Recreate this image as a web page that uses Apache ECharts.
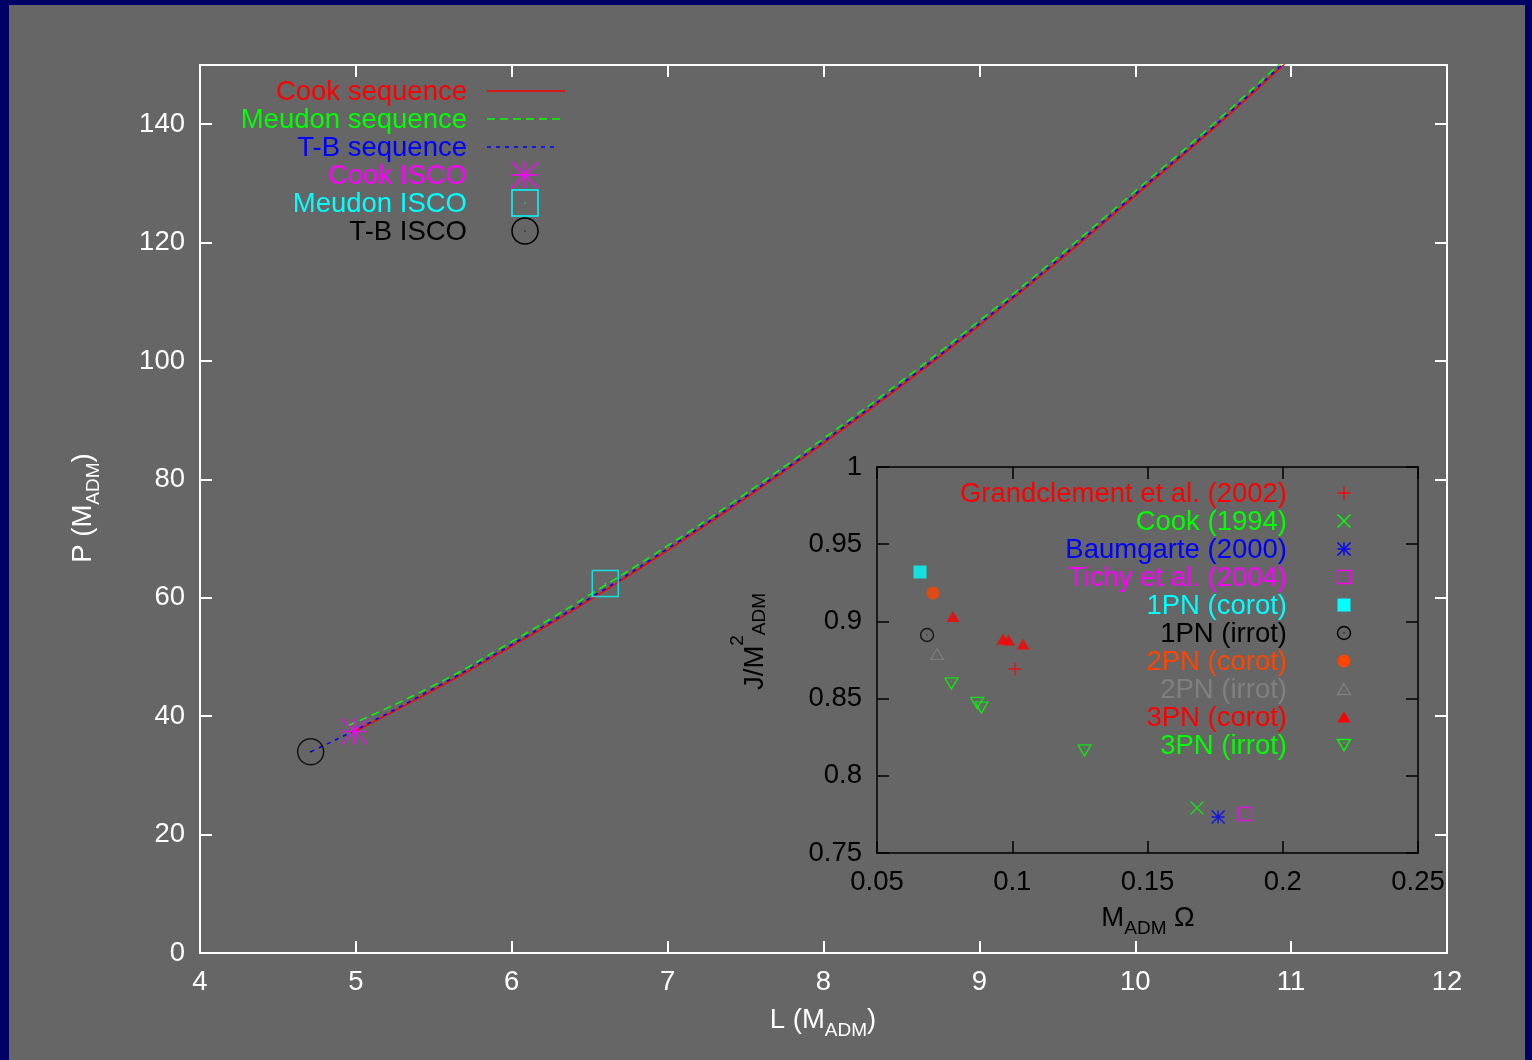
<!DOCTYPE html>
<html>
<head>
<meta charset="utf-8">
<script src="https://cdn.jsdelivr.net/npm/echarts@6/dist/echarts.min.js"></script>
<style>
  html, body { margin: 0; padding: 0; background: #666666; }
  #chart { width: 1532px; height: 1060px; }
</style>
</head>
<body>
<div id="chart"></div>
<script>
// ---------------------------------------------------------------
// Binary black holes: orbital period P versus separation L (M_ADM)
// ---------------------------------------------------------------
const cookSeq = [[5.00, 37.5], [5.5, 44.4], [6.0, 51.8], [6.5, 59.6], [7.0, 68.0], [7.5, 76.8],
                 [8.0, 86.1], [8.5, 95.8], [9.0, 106.0], [9.5, 116.7], [10.0, 127.9], [10.5, 139.2], [11.0, 151.2]];
const meudonSeq = [[4.95, 38.4], [5.5, 45.2], [6.0, 52.6], [6.5, 60.5], [7.0, 68.8], [7.5, 77.6],
                   [8.0, 86.9], [8.5, 96.6], [9.0, 106.8], [9.5, 117.5], [10.0, 128.7], [10.5, 140.0], [11.0, 152.0]];
const tbSeq = [[4.71, 34.0], [5.0, 37.7], [5.5, 44.7], [6.0, 52.1], [6.5, 59.9], [7.0, 68.3], [7.5, 77.1],
               [8.0, 86.4], [8.5, 96.1], [9.0, 106.3], [9.5, 117.0], [10.0, 128.2], [10.5, 139.5], [11.0, 151.5]];
const cookIsco = [[4.99, 37.4]];
const meudonIsco = [[6.60, 62.4]];
const tbIsco = [[4.71, 34.0]];

// Main axes ranges / tick steps
const mainX = { min: 4, max: 12, step: 1 };
const mainY = { min: 0, max: 150, step: 20 };

// Inset: J/M_ADM^2 versus M_ADM Omega at the ISCO
const grandclement2002 = [[0.1010, 0.8692]];
const cook1994 = [[0.1683, 0.7791]];
const baumgarte2000 = [[0.1761, 0.7733]];
const tichy2004 = [[0.1860, 0.7753]];
const pn1Corot = [[0.0659, 0.9320]];
const pn1Irrot = [[0.0685, 0.8912]];
const pn2Corot = [[0.0707, 0.9184]];
const pn2Irrot = [[0.0722, 0.8789]];
const pn3Corot = [[0.0781, 0.9032], [0.0966, 0.8886], [0.0986, 0.8880], [0.1040, 0.8854]];
const pn3Irrot = [[0.0775, 0.8598], [0.0870, 0.8472], [0.0886, 0.8442], [0.1267, 0.8164]];

const insetX = { min: 0.05, max: 0.25, step: 0.05 };
const insetY = { min: 0.75, max: 1.0, step: 0.05 };

const FONT = 'Liberation Sans';
const FS = 27.5;

// Point shapes (10x10 design box); "fill" tells whether the glyph is solid
const CIRCLE = 'M0,5C0,2.24,2.24,0,5,0C7.76,0,10,2.24,10,5C10,7.76,7.76,10,5,10C2.24,10,0,7.76,0,5Z';
const MARK = {
  plus:       { path: 'M0,5L10,5M5,0L5,10', fill: false },
  cross:      { path: 'M0,0L10,10M0,10L10,0', fill: false },
  star:       { path: 'M0,5L10,5M5,0L5,10M0,0L10,10M0,10L10,0', fill: false },
  boxDot:     { path: 'M0,0L10,0L10,10L0,10L0,0M4.8,5L5.2,5', fill: false },
  box:        { path: 'M0,0L10,0L10,10L0,10Z', fill: true },
  ringDot:    { path: CIRCLE + 'M4.8,5L5.2,5', fill: false },
  disc:       { path: CIRCLE, fill: true },
  triDot:     { path: 'M5,0L10,10L0,10L5,0M4.8,6.7L5.2,6.7', fill: false },
  tri:        { path: 'M5,0L10,10L0,10Z', fill: true },
  triDownDot: { path: 'M0,0L10,0L5,10L0,0M4.8,3.3L5.2,3.3', fill: false }
};

const insetSets = [
  { name: 'Grandclement et al. (2002)', data: grandclement2002, color: '#ff0000', mark: 'plus', size: [13, 13] },
  { name: 'Cook (1994)', data: cook1994, color: '#00ff00', mark: 'cross', size: [13, 13] },
  { name: 'Baumgarte (2000)', data: baumgarte2000, color: '#0000ff', mark: 'star', size: [13, 13] },
  { name: 'Tichy et al. (2004)', data: tichy2004, color: '#ff00ff', mark: 'boxDot', size: [13, 13] },
  { name: '1PN (corot)', data: pn1Corot, color: '#00ffff', mark: 'box', size: [13, 13] },
  { name: '1PN (irrot)', data: pn1Irrot, color: '#000000', mark: 'ringDot', size: [13, 13] },
  { name: '2PN (corot)', data: pn2Corot, color: '#ff4500', mark: 'disc', size: [13, 13] },
  { name: '2PN (irrot)', data: pn2Irrot, color: '#808080', mark: 'triDot', size: [13, 11] },
  { name: '3PN (corot)', data: pn3Corot, color: '#ff0000', mark: 'tri', size: [13, 11] },
  { name: '3PN (irrot)', data: pn3Irrot, color: '#00ff00', mark: 'triDownDot', size: [13, 11] }
];

const seqSets = [
  { name: 'Cook sequence', data: cookSeq, color: '#ff0000', dash: 'solid' },
  { name: 'Meudon sequence', data: meudonSeq, color: '#00ff00', dash: [8, 5] },
  { name: 'T-B sequence', data: tbSeq, color: '#0000ff', dash: [4, 5] }
];

const iscoSets = [
  { name: 'Cook ISCO', data: cookIsco, color: '#ff00ff', mark: 'star', size: [26, 26] },
  { name: 'Meudon ISCO', data: meudonIsco, color: '#00ffff', mark: 'boxDot', size: [26, 26] },
  { name: 'T-B ISCO', data: tbIsco, color: '#000000', mark: 'ringDot', size: [26, 26] }
];

function markerStyle(mark, color, lw) {
  return MARK[mark].fill
    ? { color: color, borderWidth: 0 }
    : { color: 'none', borderColor: color, borderWidth: lw };
}

function scatterSeries(set, xi, yi, lw) {
  return {
    type: 'scatter', name: set.name, xAxisIndex: xi, yAxisIndex: yi,
    data: set.data, symbol: 'path://' + MARK[set.mark].path, symbolSize: set.size,
    itemStyle: markerStyle(set.mark, set.color, lw), silent: true, z: 4
  };
}

// Legend glyphs built from plain graphic primitives
function legendGlyph(kind, cx, cy, w, h, color, lw) {
  const x0 = cx - w / 2, y0 = cy - h / 2, x1 = cx + w / 2, y1 = cy + h / 2;
  const seg = (a, b, c, d) => ({ type: 'line', z: 50, shape: { x1: a, y1: b, x2: c, y2: d },
                                  style: { stroke: color, lineWidth: lw } });
  const dot = (x, y) => ({ type: 'rect', z: 51, shape: { x: x - 0.6, y: y - 0.6, width: 1.2, height: 1.2 },
                           style: { fill: color } });
  const open = { fill: 'none', stroke: color, lineWidth: lw };
  switch (kind) {
    case 'plus': return [seg(x0, cy, x1, cy), seg(cx, y0, cx, y1)];
    case 'cross': return [seg(x0, y0, x1, y1), seg(x0, y1, x1, y0)];
    case 'star': return [seg(x0, cy, x1, cy), seg(cx, y0, cx, y1), seg(x0, y0, x1, y1), seg(x0, y1, x1, y0)];
    case 'boxDot': return [{ type: 'rect', z: 50, shape: { x: x0, y: y0, width: w, height: h }, style: open }, dot(cx, cy)];
    case 'box': return [{ type: 'rect', z: 50, shape: { x: x0, y: y0, width: w, height: h }, style: { fill: color } }];
    case 'ringDot': return [{ type: 'circle', z: 50, shape: { cx: cx, cy: cy, r: w / 2 }, style: open }, dot(cx, cy)];
    case 'disc': return [{ type: 'circle', z: 50, shape: { cx: cx, cy: cy, r: w / 2 }, style: { fill: color } }];
    case 'triDot': return [{ type: 'polygon', z: 50, shape: { points: [[cx, y0], [x1, y1], [x0, y1]] }, style: open },
                           dot(cx, y0 + h * 0.67)];
    case 'tri': return [{ type: 'polygon', z: 50, shape: { points: [[cx, y0], [x1, y1], [x0, y1]] }, style: { fill: color } }];
    case 'triDownDot': return [{ type: 'polygon', z: 50, shape: { points: [[x0, y0], [x1, y0], [cx, y1]] }, style: open },
                               dot(cx, y0 + h * 0.33)];
  }
  return [];
}

function legendText(text, x, y, color) {
  return { type: 'text', z: 50, x: x, y: y,
           style: { text: text, fill: color, fontFamily: FONT, fontSize: FS, align: 'right', verticalAlign: 'middle' } };
}

const graphics = [];
// page frame
graphics.push({ type: 'rect', z: 0, shape: { x: 0, y: 0, width: 9, height: 1060 }, style: { fill: '#000066' } });
graphics.push({ type: 'rect', z: 0, shape: { x: 0, y: 0, width: 1532, height: 5 }, style: { fill: '#000066' } });
graphics.push({ type: 'rect', z: 0, shape: { x: 1525, y: 0, width: 7, height: 1060 }, style: { fill: '#000066' } });

// main key
const mainKeyY = [92, 120, 148, 176, 204, 232];
seqSets.forEach((s, i) => {
  graphics.push(legendText(s.name, 467, mainKeyY[i], s.color));
  graphics.push({ type: 'line', z: 50, shape: { x1: 487, y1: mainKeyY[i] - 1, x2: i === 2 ? 559 : 565, y2: mainKeyY[i] - 1 },
                  style: { stroke: s.color, lineWidth: 1.5, lineDash: s.dash === 'solid' ? null : s.dash } });
});
iscoSets.forEach((s, i) => {
  graphics.push(legendText(s.name, 467, mainKeyY[i + 3], s.color));
  legendGlyph(s.mark, 525, mainKeyY[i + 3] - 1, s.size[0], s.size[1], s.color, 1.5).forEach(g => graphics.push(g));
});

// inset key
insetSets.forEach((s, i) => {
  const y = 494 + 28 * i;
  graphics.push(legendText(s.name, 1287, y, s.color));
  legendGlyph(s.mark, 1344, y - 1, s.size[0], s.size[1], s.color, 1.4).forEach(g => graphics.push(g));
});

// axis titles (with sub/superscripts)
const richMain = (color) => ({
  m: { fill: color, fontFamily: FONT, fontSize: FS, verticalAlign: 'bottom', padding: [0, 0, 7, 0] },
  s: { fill: color, fontFamily: FONT, fontSize: 19, verticalAlign: 'bottom', padding: [0, 0, 1, 0] }
});
graphics.push({ type: 'text', z: 50, x: 823, y: 1041,
  style: { text: '{m|L (M}{s|ADM}{m|)}', rich: richMain('#ffffff'), align: 'center', verticalAlign: 'bottom' } });
graphics.push({ type: 'text', z: 50, x: 104, y: 508, rotation: Math.PI / 2,
  style: { text: '{m|P (M}{s|ADM}{m|)}', rich: richMain('#ffffff'), align: 'center', verticalAlign: 'bottom' } });
graphics.push({ type: 'text', z: 50, x: 1148, y: 939,
  style: { text: '{m|M}{s|ADM}{m| Ω}', rich: richMain('#000000'), align: 'center', verticalAlign: 'bottom' } });
graphics.push({ type: 'text', z: 50, x: 769, y: 690, rotation: Math.PI / 2,
  style: { text: '{m|J/M}{p|2}{s|ADM}', align: 'left', verticalAlign: 'bottom',
    rich: {
      m: { fill: '#000', fontFamily: FONT, fontSize: FS, verticalAlign: 'bottom', padding: [0, 0, 0, 0] },
      p: { fill: '#000', fontFamily: FONT, fontSize: 19, verticalAlign: 'bottom', padding: [0, 0, 22, 0] },
      s: { fill: '#000', fontFamily: FONT, fontSize: 19, verticalAlign: 'bottom', padding: [0, 0, 0, 0] }
    } } });

function valueAxis(grid, range, position, color, showLabel, extra) {
  return Object.assign({
    type: 'value', gridIndex: grid, position: position,
    min: range.min, max: range.max, interval: range.step,
    axisLine: { show: true, onZero: false, lineStyle: { color: color, width: grid === 0 ? 2 : 1.5 } },
    axisTick: { show: true, inside: true, length: 12, lineStyle: { color: color, width: grid === 0 ? 2 : 1.5 } },
    axisLabel: { show: showLabel, color: color, fontFamily: FONT, fontSize: FS, margin: 15 },
    splitLine: { show: false }
  }, extra || {});
}

const series = [];
seqSets.forEach(s => series.push({
  type: 'line', name: s.name, xAxisIndex: 0, yAxisIndex: 0, data: s.data,
  showSymbol: false, smooth: true, clip: true, silent: true, z: 3,
  lineStyle: { color: s.color, width: 1.5, type: s.dash }
}));
iscoSets.forEach(s => series.push(scatterSeries(s, 0, 0, 1.5)));
insetSets.forEach(s => series.push(scatterSeries(s, 2, 2, 1.4)));

const chart = echarts.init(document.getElementById('chart'), null, { renderer: 'canvas' });
chart.setOption({
  animation: false,
  backgroundColor: '#666666',
  grid: [
    { left: 200, top: 65, right: 85, bottom: 107 },
    { left: 877, top: 467, right: 114, bottom: 207 }
  ],
  xAxis: [
    valueAxis(0, mainX, 'bottom', '#ffffff', true),
    valueAxis(0, mainX, 'top', '#ffffff', false),
    valueAxis(1, insetX, 'bottom', '#000000', true),
    valueAxis(1, insetX, 'top', '#000000', false)
  ],
  yAxis: [
    valueAxis(0, mainY, 'left', '#ffffff', true, { axisLabel: { color: '#ffffff', fontFamily: FONT, fontSize: FS, margin: 15, showMaxLabel: false } }),
    valueAxis(0, mainY, 'right', '#ffffff', false),
    valueAxis(1, insetY, 'left', '#000000', true),
    valueAxis(1, insetY, 'right', '#000000', false)
  ],
  series: series,
  graphic: graphics
});
</script>
</body>
</html>
